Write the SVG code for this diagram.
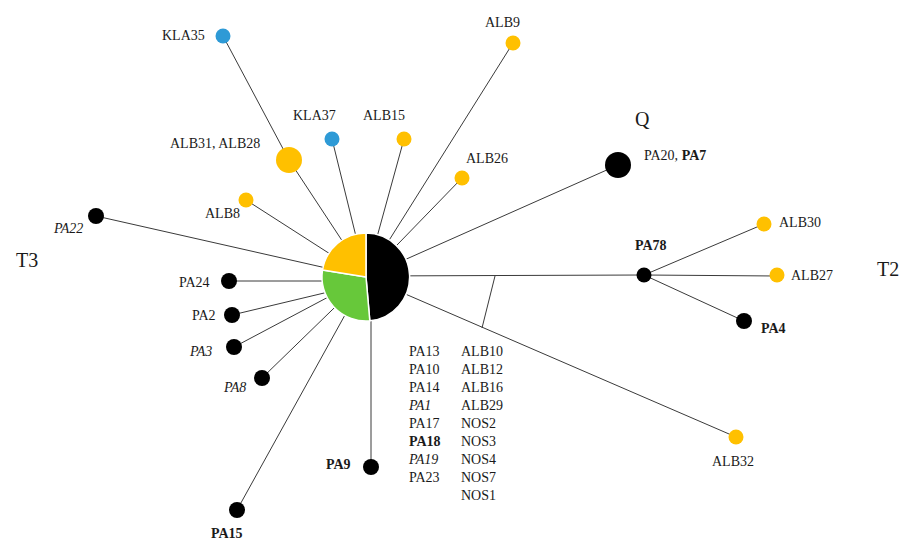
<svg xmlns="http://www.w3.org/2000/svg" width="900" height="541" viewBox="0 0 900 541">
<style>
text{font-family:"Liberation Serif","Times New Roman",serif;font-size:14px;fill:#1a1a1a}
.b{font-weight:bold}
.i{font-style:italic}
.big{font-size:20px}
.edge{stroke:#3a3a3a;stroke-width:1;fill:none}
.y{fill:#FFC000}
.bl{fill:#2E9AD6}
.k{fill:#000}
</style>
<rect width="900" height="541" fill="#fff"/>
<g id="connectors">
<line class="edge" x1="223" y1="36" x2="289" y2="160"/>
<line class="edge" x1="289" y1="160" x2="366" y2="277"/>
<line class="edge" x1="332" y1="139" x2="366" y2="277"/>
<line class="edge" x1="404" y1="139" x2="366" y2="277"/>
<line class="edge" x1="513" y1="43" x2="366" y2="277"/>
<line class="edge" x1="462" y1="178" x2="366" y2="277"/>
<line class="edge" x1="246" y1="200" x2="366" y2="277"/>
<line class="edge" x1="96" y1="216" x2="366" y2="277"/>
<line class="edge" x1="229" y1="281" x2="366" y2="281"/>
<line class="edge" x1="232" y1="315" x2="366" y2="283"/>
<line class="edge" x1="234" y1="347" x2="366" y2="277"/>
<line class="edge" x1="262" y1="378" x2="366" y2="277"/>
<line class="edge" x1="237" y1="510" x2="366" y2="277"/>
<line class="edge" x1="371" y1="277" x2="371" y2="468"/>
<line class="edge" x1="618" y1="165" x2="366" y2="277"/>
<line class="edge" x1="366" y1="276" x2="644" y2="275"/>
<line class="edge" x1="366" y1="277" x2="736" y2="437"/>
<line class="edge" x1="495" y1="276" x2="482" y2="328"/>
<line class="edge" x1="644" y1="275" x2="764" y2="224"/>
<line class="edge" x1="644" y1="275" x2="777" y2="276"/>
<line class="edge" x1="644" y1="275" x2="744" y2="321"/>
</g>
<g id="center" stroke="#fff" stroke-width="1.5" stroke-linejoin="round">
<path d="M366,277 L366,233 A44,44 0 0 1 369.8,320.8 Z" fill="#000"/>
<path d="M366,277 L369.8,320.8 A44,44 0 0 1 322.5,270.1 Z" fill="#67C83A"/>
<path d="M366,277 L322.5,270.1 A44,44 0 0 1 366,233 Z" fill="#FFC000"/>
</g>
<g id="KLA35"><circle class="bl" cx="223" cy="36" r="7.5"/><text x="162" y="40">KLA35</text></g>
<g id="ALB31_ALB28"><circle class="y" cx="289" cy="160" r="13"/><text x="170" y="148">ALB31, ALB28</text></g>
<g id="KLA37"><circle class="bl" cx="332" cy="139" r="7.5"/><text x="293" y="120">KLA37</text></g>
<g id="ALB15"><circle class="y" cx="404" cy="139" r="7.5"/><text x="363" y="120">ALB15</text></g>
<g id="ALB9"><circle class="y" cx="513" cy="43" r="7.5"/><text x="485" y="27">ALB9</text></g>
<g id="ALB26"><circle class="y" cx="462" cy="178" r="7.5"/><text x="466" y="163">ALB26</text></g>
<g id="ALB8"><circle class="y" cx="246" cy="200" r="7.5"/><text x="205" y="218">ALB8</text></g>
<g id="PA22"><circle class="k" cx="96" cy="216" r="8"/><text class="i" x="54" y="233">PA22</text></g>
<g id="PA24"><circle class="k" cx="229" cy="281" r="8"/><text x="179" y="287">PA24</text></g>
<g id="PA2"><circle class="k" cx="232" cy="315" r="8"/><text x="192" y="320">PA2</text></g>
<g id="PA3"><circle class="k" cx="234" cy="347" r="8"/><text class="i" x="190" y="356">PA3</text></g>
<g id="PA8"><circle class="k" cx="262" cy="378" r="8"/><text class="i" x="224" y="392">PA8</text></g>
<g id="PA15"><circle class="k" cx="237" cy="510" r="8"/><text class="b" x="211" y="538">PA15</text></g>
<g id="PA9"><circle class="k" cx="371" cy="467" r="8"/><text class="b" x="326" y="469">PA9</text></g>
<g id="PA20_PA7"><circle class="k" cx="618" cy="165" r="13"/><text x="644" y="160">PA20, <tspan class="b">PA7</tspan></text></g>
<g id="PA78"><circle class="k" cx="644" cy="275" r="7.5"/><text class="b" x="635" y="250">PA78</text></g>
<g id="ALB30"><circle class="y" cx="764" cy="224" r="7.5"/><text x="779" y="227">ALB30</text></g>
<g id="ALB27"><circle class="y" cx="777" cy="275" r="7.5"/><text x="791" y="280">ALB27</text></g>
<g id="PA4"><circle class="k" cx="744" cy="321" r="8"/><text class="b" x="761" y="333">PA4</text></g>
<g id="ALB32"><circle class="y" cx="736" cy="437" r="7.5"/><text x="712" y="466">ALB32</text></g>
<g id="groups">
<text class="big" x="16" y="267">T3</text>
<text class="big" x="635" y="126">Q</text>
<text class="big" x="877" y="276">T2</text>
</g>
<g id="center-list">
<text x="409" y="356">PA13</text>
<text x="409" y="374">PA10</text>
<text x="409" y="392">PA14</text>
<text class="i" x="409" y="410">PA1</text>
<text x="409" y="428">PA17</text>
<text class="b" x="409" y="446">PA18</text>
<text class="i" x="409" y="464">PA19</text>
<text x="409" y="482">PA23</text>
<text x="461" y="356">ALB10</text>
<text x="461" y="374">ALB12</text>
<text x="461" y="392">ALB16</text>
<text x="461" y="410">ALB29</text>
<text x="461" y="428">NOS2</text>
<text x="461" y="446">NOS3</text>
<text x="461" y="464">NOS4</text>
<text x="461" y="482">NOS7</text>
<text x="461" y="500">NOS1</text>
</g>
</svg>
